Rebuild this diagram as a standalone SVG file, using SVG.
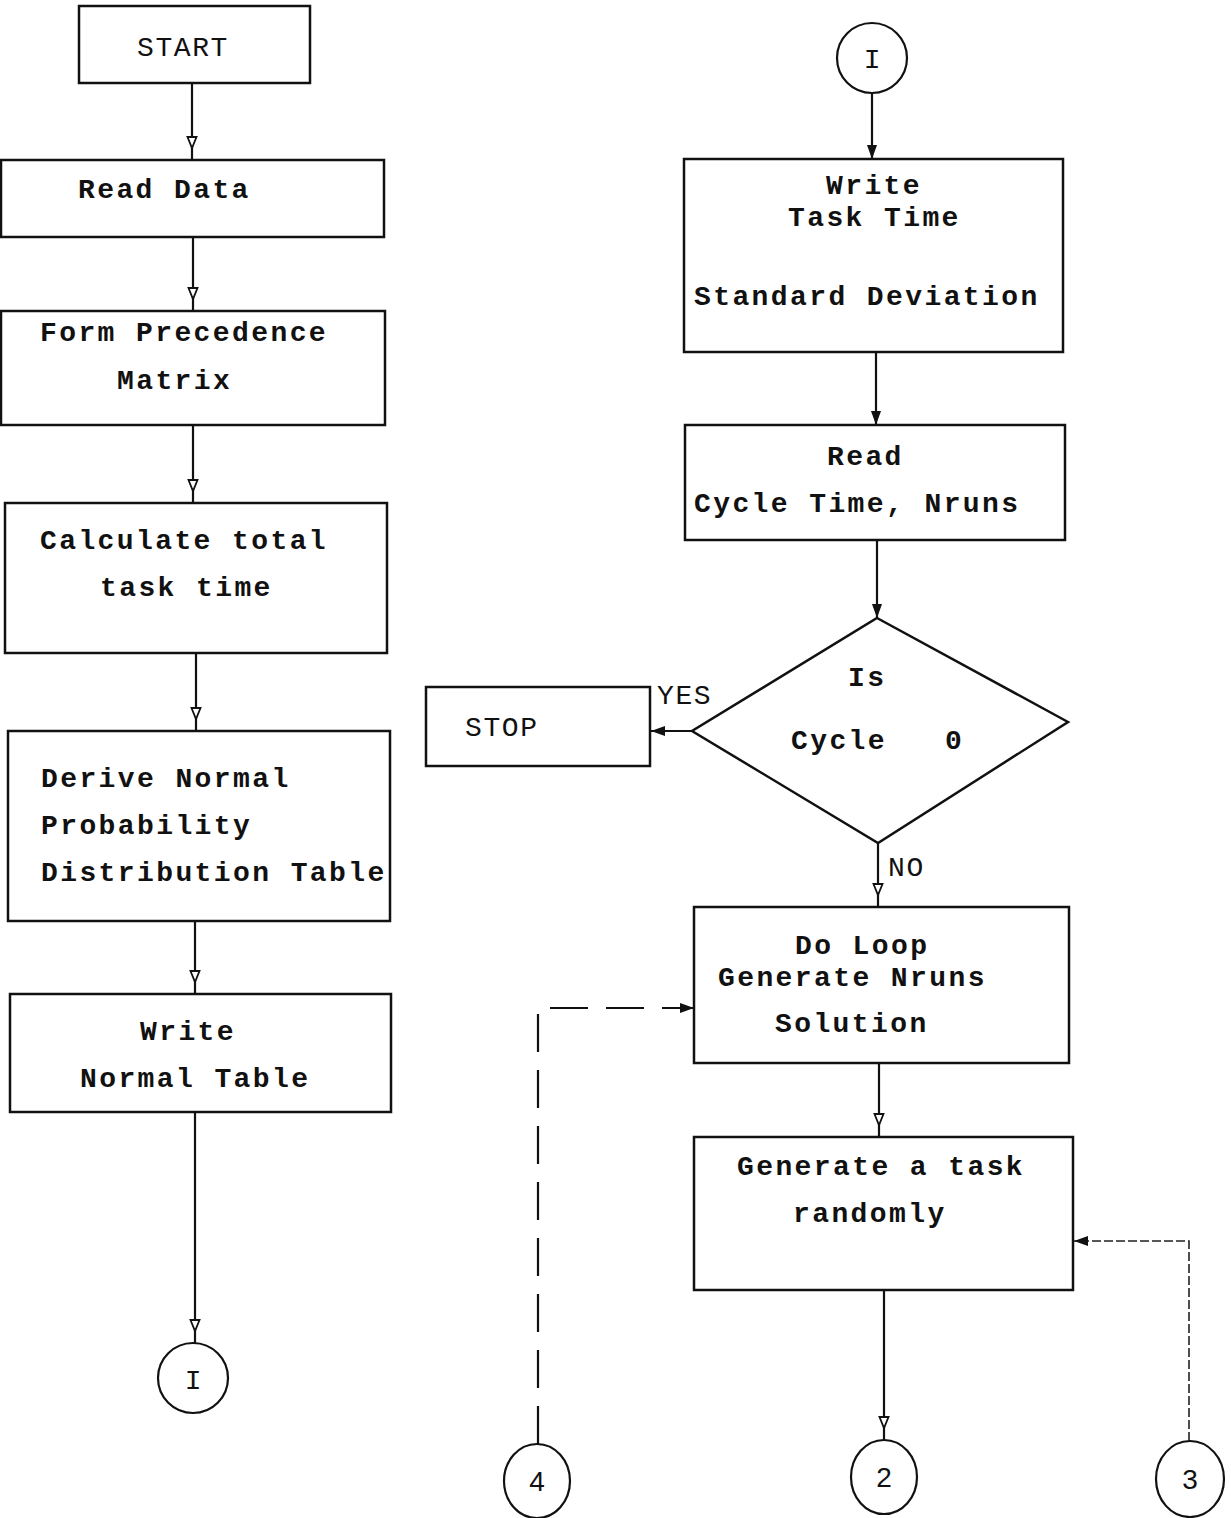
<svg xmlns="http://www.w3.org/2000/svg" width="1231" height="1518" viewBox="0 0 1231 1518">
  <style>
    .box { fill: #fff; stroke: #111; stroke-width: 2.5; }
    .conn { fill: none; stroke: #111; stroke-width: 2.2; }
    .dash { fill: none; stroke: #111; stroke-width: 2.2; stroke-dasharray: 38 18; }
    .fine { fill: none; stroke: #222; stroke-width: 1.6; stroke-dasharray: 9 3; }
    .circ { fill: #fff; stroke: #111; stroke-width: 2.2; }
    .t { font-family: "Liberation Mono", "Courier New", monospace; font-size: 28px; letter-spacing: 2.4px; font-weight: bold; fill: #111; }
    .lbl { font-family: "Liberation Mono", "Courier New", monospace; font-size: 28px; letter-spacing: 1.6px; fill: #111; }
    .num { font-family: "Liberation Sans", Arial, sans-serif; font-size: 28px; fill: #111; }
  </style>
  <defs>
    <marker id="tip" viewBox="0 0 14 12" refX="14" refY="6" markerWidth="14" markerHeight="12" markerUnits="userSpaceOnUse" orient="auto">
      <path d="M0,1 L14,6 L0,11 Z" fill="#111"/>
    </marker>
    <marker id="tipOpen" viewBox="0 0 24 12" refX="24" refY="6" markerWidth="24" markerHeight="12" markerUnits="userSpaceOnUse" orient="auto">
      <path d="M1,1.5 L12,6 L1,10.5 Z" fill="#fff" stroke="#111" stroke-width="1.8"/>
    </marker>
  </defs>
  <rect width="1231" height="1518" fill="#fff"/>

  <!-- connectors -->
  <g id="connectors">
    <path class="conn" d="M192,83 V160" marker-end="url(#tipOpen)"/>
    <path class="conn" d="M193,237 V311" marker-end="url(#tipOpen)"/>
    <path class="conn" d="M193,425 V503" marker-end="url(#tipOpen)"/>
    <path class="conn" d="M196,653 V731" marker-end="url(#tipOpen)"/>
    <path class="conn" d="M195,921 V994" marker-end="url(#tipOpen)"/>
    <path class="conn" d="M195,1113 V1343" marker-end="url(#tipOpen)"/>

    <path class="conn" d="M872,93 V159" marker-end="url(#tip)"/>
    <path class="conn" d="M876,352 V425" marker-end="url(#tip)"/>
    <path class="conn" d="M877,540 V618" marker-end="url(#tip)"/>
    <path class="conn" d="M692,731 H651" marker-end="url(#tip)"/>
    <path class="conn" d="M878,843 V907" marker-end="url(#tipOpen)"/>
    <path class="conn" d="M879,1063 V1137" marker-end="url(#tipOpen)"/>
    <path class="conn" d="M884,1290 V1440" marker-end="url(#tipOpen)"/>

    <path class="dash" d="M538,1444 V1008 H694" marker-end="url(#tip)"/>
    <path class="fine" d="M1189,1441 V1241 H1074" marker-end="url(#tip)"/>

    <text class="lbl" x="657" y="704">YES</text>
    <text class="lbl" x="888" y="876">NO</text>
  </g>

  <!-- left column -->
  <g id="start">
    <rect class="box" x="79" y="6" width="231" height="77"/>
    <text class="lbl" x="137" y="56">START</text>
  </g>
  <g id="read-data">
    <rect class="box" x="1" y="160" width="383" height="77"/>
    <text class="t" x="78" y="198">Read Data</text>
  </g>
  <g id="precedence">
    <rect class="box" x="1" y="311" width="384" height="114"/>
    <text class="t" x="40" y="341">Form Precedence</text>
    <text class="t" x="117" y="389">Matrix</text>
  </g>
  <g id="total-time">
    <rect class="box" x="5" y="503" width="382" height="150"/>
    <text class="t" x="40" y="549">Calculate total</text>
    <text class="t" x="100" y="596">task time</text>
  </g>
  <g id="derive-normal">
    <rect class="box" x="8" y="731" width="382" height="190"/>
    <text class="t" x="41" y="787">Derive Normal</text>
    <text class="t" x="41" y="834">Probability</text>
    <text class="t" x="41" y="881">Distribution Table</text>
  </g>
  <g id="write-normal">
    <rect class="box" x="10" y="994" width="381" height="118"/>
    <text class="t" x="140" y="1040">Write</text>
    <text class="t" x="80" y="1087">Normal Table</text>
  </g>
  <g id="conn-out">
    <circle class="circ" cx="193" cy="1378" r="35"/>
    <text class="lbl" x="194" y="1389" text-anchor="middle">I</text>
  </g>

  <!-- right column -->
  <g id="conn-in">
    <circle class="circ" cx="872" cy="58" r="35"/>
    <text class="lbl" x="873" y="68" text-anchor="middle">I</text>
  </g>
  <g id="write-task">
    <rect class="box" x="684" y="159" width="379" height="193"/>
    <text class="t" x="826" y="194">Write</text>
    <text class="t" x="788" y="226">Task Time</text>
    <text class="t" x="694" y="305">Standard Deviation</text>
  </g>
  <g id="read-cycle">
    <rect class="box" x="685" y="425" width="380" height="115"/>
    <text class="t" x="827" y="465">Read</text>
    <text class="t" x="694" y="512">Cycle Time, Nruns</text>
  </g>
  <g id="decision">
    <path class="box" d="M877,618 L1068,722 L878,843 L692,731 Z"/>
    <text class="t" x="848" y="686">Is</text>
    <text class="t" x="791" y="749">Cycle</text>
    <text class="t" x="945" y="749">0</text>
  </g>
  <g id="stop">
    <rect class="box" x="426" y="687" width="224" height="79"/>
    <text class="lbl" x="465" y="736">STOP</text>
  </g>
  <g id="do-loop">
    <rect class="box" x="694" y="907" width="375" height="156"/>
    <text class="t" x="795" y="954">Do Loop</text>
    <text class="t" x="718" y="986">Generate Nruns</text>
    <text class="t" x="775" y="1032">Solution</text>
  </g>
  <g id="gen-task">
    <rect class="box" x="694" y="1137" width="379" height="153"/>
    <text class="t" x="737" y="1175">Generate a task</text>
    <text class="t" x="793" y="1222">randomly</text>
  </g>
  <g id="conn-4">
    <ellipse class="circ" cx="537" cy="1481" rx="33" ry="37"/>
    <text class="num" x="537" y="1491" text-anchor="middle">4</text>
  </g>
  <g id="conn-2">
    <ellipse class="circ" cx="884" cy="1477" rx="33" ry="37"/>
    <text class="num" x="884" y="1487" text-anchor="middle">2</text>
  </g>
  <g id="conn-3">
    <ellipse class="circ" cx="1190" cy="1479" rx="34" ry="38"/>
    <text class="num" x="1190" y="1489" text-anchor="middle">3</text>
  </g>
</svg>
